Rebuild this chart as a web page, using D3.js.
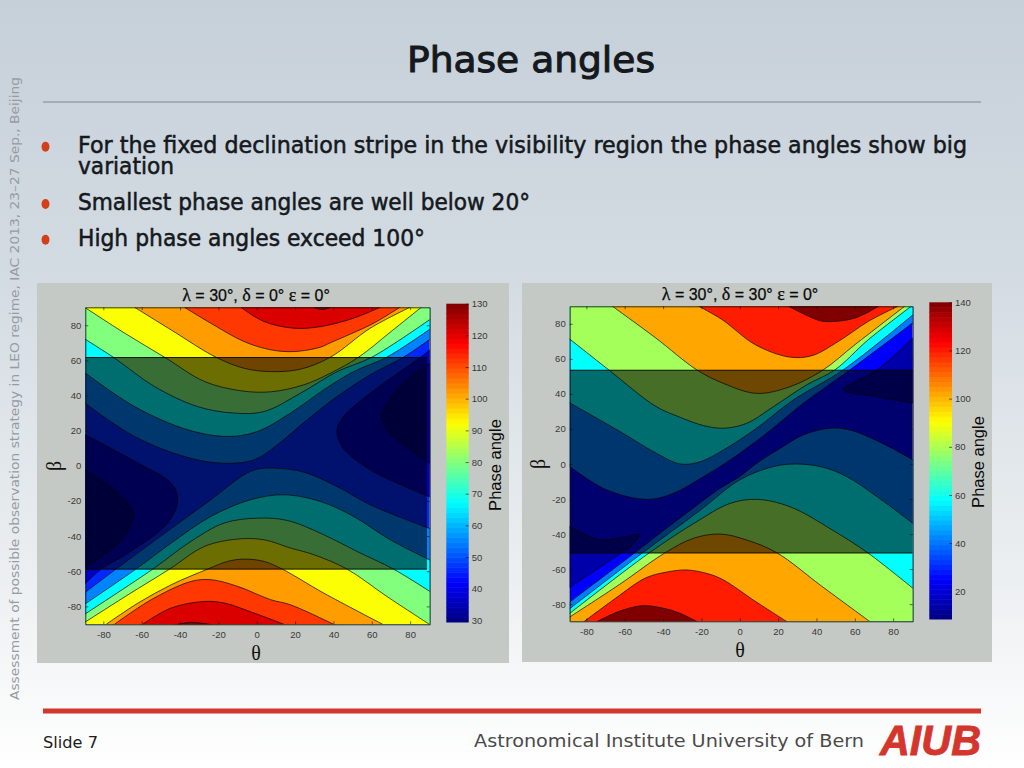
<!DOCTYPE html>
<html><head><meta charset="utf-8">
<script src="https://cdn.jsdelivr.net/npm/d3@7/dist/d3.min.js"></script>
<style>html,body{margin:0;padding:0;background:#fff}svg{display:block}</style>
</head><body><svg id="c" width="1024" height="768"></svg>
<script>
// ---------- slide text ----------
const slideTitle = "Phase angles";
const bullets = [["For the fixed declination stripe in the visibility region the phase angles show big","variation"],["Smallest phase angles are well below 20°"],["High phase angles exceed 100°"]];
const sideNote = "Assessment of possible observation strategy in LEO regime, IAC 2013, 23–27 Sep., Beijing";
const slideNumber = "Slide 7";
const institute = "Astronomical Institute University of Bern";
const logoText = "AIUB";
const axisTicks = [-80,-60,-40,-20,0,20,40,60,80];
const leftBarTicks = [30,40,50,60,70,80,90,100,110,120,130];
const rightBarTicks = [20,40,60,80,100,120,140];

// ---------- left chart: band values, lowest band first ----------
const leftBands = [30,36,46,55,67,80,92,102,112,121,130];
const leftStripe = [-58.8,61.6];
const leftUpper3 = [[-90,36],[-63.7,16.7],[-37.7,5.3],[-18.7,1.5],[-1.4,3.4],[10.7,11.9],[26.3,26.2],[41.9,39.4],[59.2,51.8],[76.5,61.8],[91,72.5]];
const leftUpper4 = [[-90,53.3],[-63.7,33.7],[-36,20.5],[-15.2,16.7],[.3,19.5],[17.6,30],[34.9,43.2],[50.5,53.6],[67.8,61.8],[91,78.3]];
const leftUpper5 = [[-90,72.4],[-74,61.2],[-53.3,45.1],[-30.8,33.7],[-11.8,30],[3.8,30.9],[22.8,41.3],[41.9,53.6],[60,61.8],[91,83.8]];
const leftUpper6 = [[-90,90.4],[-68.9,75.5],[-47.2,61.2],[-27.3,48],[-8.3,42.7],[7.3,42.1],[24.6,46.1],[38.4,52.7],[53.1,61.8],[69.6,76],[85.8,90.2]];
const leftUpper7 = [[-63.7,90.2],[-44.6,77.3],[-21.3,61.8],[-6.6,55.5],[7.3,53.6],[22.8,55],[38.4,61.8],[59.2,78.3],[79.9,90.2]];
const leftUpper8 = [[-37.7,90.2],[-23.9,81.1],[-6.6,70.7],[7.3,66],[19.4,65],[33.2,67.5],[38.4,70],[60.7,81],[74.6,90.2]];
const leftUpper9 = [[-8.3,90.2],[3.8,82.1],[19.4,78.3],[33.2,79.2],[50.5,84],[64.4,90.2]];
const leftUpper10 = [[29.8,90.2],[34.1,88.9],[38.4,90.2]];
const leftLower3 = [[-90,-72.5],[-73.4,-58.8],[-58.5,-46.8],[-41.2,-33],[-23.9,-19.3],[-6.6,-5.1],[.3,-1.9],[9,-1.3],[24.6,-3.6],[41.9,-11.8],[59.2,-22.2],[91,-36]];
const leftLower4 = [[-90,-79],[-63,-58.8],[-44.6,-44],[-23.9,-28.8],[-3.1,-19.3],[14.2,-16.5],[33.2,-20.3],[50.5,-28.8],[69.6,-42.1],[91,-54]];
const leftLower5 = [[-90,-84.7],[-54.2,-58.8],[-34.3,-43],[-17,-32.6],[.3,-29.8],[15.9,-31.1],[34.9,-39.2],[52.2,-48.7],[71.3,-58.8],[91,-72]];
const leftLower6 = [[-90,-89.3],[-67.1,-73.4],[-45.5,-58.8],[-27.3,-45.9],[-10,-41.7],[3.8,-42.1],[17.6,-46.8],[29.8,-50.6],[47.1,-58.8],[67.8,-74.3],[91,-90.9]];
const leftLower7 = [[-78.5,-90.2],[-61.9,-78.1],[-44.6,-67.7],[-25.6,-58.8],[-15.2,-54.4],[-6.6,-53.1],[3.8,-54.4],[13.3,-58.8],[34.9,-72.4],[65.7,-90.2]];
const leftLower8 = [[-74.2,-90.2],[-55,-76.2],[-34.3,-65.8],[-23.9,-64.8],[-10,-68.6],[7.3,-76.2],[17.6,-79.1],[40.1,-90.2]];
const leftLower9 = [[-59.5,-90.2],[-44.6,-80.9],[-27.3,-77.2],[-17,-78.1],[-1.4,-83.8],[14.2,-90.2]];
const leftLower10 = [[-41.2,-90.2],[-34.3,-89.1],[-24.7,-90.2]];
const leftPocketWest1 = [[-90,18],[-61.9,1.5],[-44.6,-9.9],[-41.2,-19.3],[-46.4,-32.6],[-67.1,-49.7],[-81.1,-58.8],[-90,-67.6]];
const leftPocketEast1 = [[91,66.6],[84.9,61.4],[59.2,41.3],[45.3,28.1],[41.9,20.5],[44.5,11],[59.2,-2.3],[91,-18]];
const leftPocketWest0 = [[-90,-1.8],[-72.3,-15.5],[-64.5,-26.9],[-70.6,-42.1],[-90,-58]];
const leftPocketEast0 = [[91,59],[76.5,47],[66.1,31.8],[65.2,26.2],[69.6,18.6],[91,.8]];

// ---------- right chart ----------
const rightBands = [14,25,41,58,79,102,120,140];
const rightStripe = [-50.8,53.5];
const rightUpper2 = [[-89.5,-.8],[-69.8,-14.6],[-48.4,-20.2],[-34.5,-16.7],[-18.9,-7.2],[-5,2.3],[14,17.5],[33.1,34.6],[57.4,53.7],[91,81.2]];
const rightUpper3 = [[-89.5,35.4],[-61.2,17.7],[-43.8,6.3],[-31,0],[-20.6,1.3],[-8.5,8],[8.8,20.4],[27.9,36.5],[53.9,53.7],[91,85.8]];
const rightUpper4 = [[-89.5,72],[-68.1,53.5],[-43.8,32.9],[-31,26.6],[-18.9,21.9],[-8.5,20.4],[3.6,23.2],[17.5,32.7],[34.8,45.1],[49.6,53.7],[67.1,71],[89.4,90]];
const rightUpper5 = [[-66.4,90],[-43.8,71.9],[-22.4,53.7],[-8.5,46],[8.8,40.3],[26.2,44.1],[43.5,53.7],[60.1,68.1],[86,90]];
const rightUpper6 = [[-21.3,90],[-9.2,82.4],[8.1,68.1],[25.5,61.1],[37.6,61.8],[51.5,70],[67.1,81.4],[82.5,90]];
const rightUpper7 = [[25.5,90],[35.9,84.3],[43.7,81.4],[60.1,83.3],[72.3,90]];
const rightLower2 = [[-89.5,-79.5],[-55.1,-51],[-30,-29.9],[-10.2,-13.9],[.2,-7],[9.7,1.1],[21,8.9],[33.1,16.6],[47,20.4],[57.4,19.4],[74,12],[91,1.9]];
const rightLower3 = [[-89.5,-83.3],[-51,-51],[-21.3,-27],[.3,-8.9],[17.5,-1.5],[29.6,0],[43.5,-1.9],[57.4,-8.2],[91,-34.5]];
const rightLower4 = [[-89.5,-86],[-47.5,-51],[-22.4,-32.9],[-5,-22.5],[8.8,-20.2],[26.2,-24.4],[48,-37.5],[67.1,-51],[91,-71.6]];
const rightLower5 = [[-89.5,-87.9],[-62.9,-68.9],[-38.8,-50.6],[-24.1,-42.4],[-10.2,-40],[3.6,-43.4],[19.2,-50.6],[42.8,-69.8],[67.9,-90]];
const rightLower6 = [[-81.3,-90],[-64.6,-76.5],[-49.2,-65.1],[-38.6,-61.8],[-27.6,-60.5],[-16.1,-62.8],[-8.5,-66.2],[8.1,-78.4],[24.6,-90]];
const rightLower7 = [[-74.4,-90],[-62.9,-84.1],[-50.8,-80.9],[-40.4,-82.2],[-31.7,-85],[-22.2,-90]];
const rightPocketWest0 = [[-89.5,-35.2],[-73.3,-43.2],[-61.2,-42],[-52.2,-40.3],[-56.8,-47],[-62,-51],[-89.5,-71]];
const rightPocketEast0 = [[91,72.7],[71.4,53.5],[54.1,42.4],[70.5,38.6],[91,34.6]];

// ---------- drawing ----------
const svg = d3.select("#c");
const SANS = "'Liberation Sans',Arial,sans-serif", SERIF = "'Liberation Serif',serif", VERA = "'DejaVu Sans',sans-serif";
const defs = svg.append("defs");
const bg = defs.append("linearGradient").attr("id","bg").attr("x1",0).attr("y1",0).attr("x2",0).attr("y2",1);
[[0,"#c6d0d9"],[.35,"#d3dbe2"],[.7,"#e8ecef"],[.88,"#f6f7f8"],[1,"#ffffff"]].forEach(d=>bg.append("stop").attr("offset",d[0]).attr("stop-color",d[1]));
svg.append("rect").attr("width",1024).attr("height",768).attr("fill","url(#bg)");

const clamp = v => Math.max(0,Math.min(1,v));
const jet = t => d3.rgb(255*clamp(1.5-Math.abs(4*t-3)),255*clamp(1.5-Math.abs(4*t-2)),255*clamp(1.5-Math.abs(4*t-1))).formatRgb();

function panel(o){
  const g = svg.append("g");
  g.append("rect").attr("x",o.box[0]).attr("y",o.box[1]).attr("width",o.box[2]).attr("height",o.box[3]).attr("fill","#c5c9c5");
  const x = d3.scaleLinear().domain(o.xd).range(o.xr), y = d3.scaleLinear().domain(o.yd).range(o.yr);
  const colorOf = v => jet((v-o.cd[0])/(o.cd[1]-o.cd[0]));
  defs.append("clipPath").attr("id",o.id).append("rect").attr("x",o.xr[0]).attr("y",o.yr[1]).attr("width",o.xr[1]-o.xr[0]).attr("height",o.yr[0]-o.yr[1]);
  const plot = g.append("g").attr("clip-path",`url(#${o.id})`);
  const line = d3.line().x(d=>x(d[0])).y(d=>y(d[1])).curve(d3.curveCatmullRom.alpha(.5));
  plot.append("rect").attr("x",o.xr[0]).attr("y",o.yr[1]).attr("width",o.xr[1]-o.xr[0]).attr("height",o.yr[0]-o.yr[1]).attr("fill",colorOf(o.bands[o.baseBand]));
  const area = (c,mode)=>{
    const e = mode==="up"?o.yr[1]:mode==="down"?o.yr[0]:null;
    const tail = e===null?"Z":`L${o.xr[1]+9},${e-(mode==="up"?9:-9)}L${o.xr[0]-9},${e-(mode==="up"?9:-9)}Z`;
    plot.append("path").attr("d",line(c.pts)+tail).attr("fill",colorOf(o.bands[c.band])).attr("stroke","none");
  };
  const all = [];
  o.upper.forEach((pts,i)=>{const c={pts,band:o.baseBand+1+i};area(c,"up");all.push(c)});
  o.lower.forEach((pts,i)=>{const c={pts,band:o.baseBand+1+i};area(c,"down");all.push(c)});
  o.pockets.forEach(c=>{area(c,"pocket");all.push(c)});
  plot.selectAll("path.c").data(all).join("path").attr("class","c").attr("d",d=>line(d.pts)).attr("fill","none").attr("stroke","#000").attr("stroke-width",.8).attr("stroke-opacity",.85);
  // stripe
  plot.append("rect").attr("x",x(o.stripeX[0])).attr("width",x(o.stripeX[1])-x(o.stripeX[0])).attr("y",y(o.stripe[1])).attr("height",y(o.stripe[0])-y(o.stripe[1])).attr("fill","#000").attr("fill-opacity",.57);
  o.stripe.forEach(b=>plot.append("line").attr("x1",x(o.stripeX[0])).attr("x2",x(o.stripeX[1])).attr("y1",y(b)).attr("y2",y(b)).attr("stroke","#000").attr("stroke-width",.9));
  // axes
  const style = s=>{s.selectAll(".domain").attr("stroke","#0b0b0b").attr("stroke-width",.8);s.selectAll(".tick line").attr("stroke","#111").attr("stroke-width",.6);s.selectAll("text").attr("fill","#383838").attr("font-family",SANS).attr("font-size",9.5)};
  const plain = d=>String(d);
  g.append("g").attr("transform",`translate(0,${o.yr[0]})`).call(d3.axisBottom(x).tickValues(axisTicks).tickSize(-3).tickSizeOuter(0).tickPadding(6.5).tickFormat(plain)).call(style);
  g.append("g").attr("transform",`translate(${o.xr[0]},0)`).call(d3.axisLeft(y).tickValues(axisTicks).tickSize(-3).tickSizeOuter(0).tickPadding(4).tickFormat(plain)).call(style);
  g.append("g").attr("transform",`translate(0,${o.yr[1]})`).call(d3.axisTop(x).tickValues(axisTicks).tickSize(-3).tickSizeOuter(0).tickFormat("")).call(style);
  g.append("g").attr("transform",`translate(${o.xr[1]},0)`).call(d3.axisRight(y).tickValues(axisTicks).tickSize(-3).tickSizeOuter(0).tickFormat("")).call(style);
  // title and labels
  const t = g.append("text").attr("x",o.titleX).attr("y",o.yr[1]-6).attr("text-anchor","middle").attr("font-family",SANS).attr("font-size",16).attr("fill","#0a0a0a").attr("stroke","#0a0a0a").attr("stroke-width",.25);
  o.title.forEach(p=>t.append("tspan").attr("font-family",p[1]?SERIF:SANS).attr("font-size",p[1]?18:16).text(p[0]));
  g.append("text").attr("x",o.titleX).attr("y",o.yr[0]+36).attr("text-anchor","middle").attr("font-family",SERIF).attr("font-size",20).attr("fill","#111").text("θ");
  g.append("text").attr("transform",`translate(${o.betaX},${(o.yr[0]+o.yr[1])/2}) rotate(-90)`).attr("text-anchor","middle").attr("font-family",SERIF).attr("font-size",20).attr("fill","#111").text("β");
  // colour bar
  const c = d3.scaleLinear().domain(o.cd).range(o.cr);
  const dv=(o.cd[1]-o.cd[0])/64, cells = d3.range(64).map(i=>o.cd[0]+dv*i);
  g.append("g").selectAll("rect").data(cells).join("rect").attr("x",o.cx[0]).attr("width",o.cx[1]-o.cx[0]).attr("y",d=>c(d+dv)).attr("height",d=>c(d)-c(d+dv)+.5).attr("fill",d=>colorOf(d+dv/2));
  g.append("g").attr("transform",`translate(${o.cx[1]},0)`).call(d3.axisRight(c).tickValues(o.barTicks).tickSize(-3).tickSizeOuter(0).tickPadding(3).tickFormat(plain)).call(style).call(s=>s.select(".domain").attr("stroke","none"));
  g.append("text").attr("transform",`translate(${o.labelX},${o.labelY}) rotate(-90)`).attr("text-anchor","middle").attr("font-family",SANS).attr("font-size",16.5).attr("fill","#0a0a0a").text("Phase angle");
}

panel({id:"pl",box:[37,283,472,380],xd:[-89.4,90.2],xr:[85.3,429.7],yd:[-90.2,90.2],yr:[624.3,307.3],cd:[29.5,130],cr:[622,303.7],cx:[446.3,468.7],
  bands:leftBands,baseBand:2,stripe:leftStripe,stripeX:[-89.4,88.8],barTicks:leftBarTicks,labelX:501,labelY:465,betaX:61,titleX:256,
  title:[["λ",1],[" = 30",0],["°",0],[", ",0],["δ",1],[" = 0° ",0],["ε",1],[" = 0°",0]],
  upper:[leftUpper3,leftUpper4,leftUpper5,leftUpper6,leftUpper7,leftUpper8,leftUpper9,leftUpper10],
  lower:[leftLower3,leftLower4,leftLower5,leftLower6,leftLower7,leftLower8,leftLower9,leftLower10],
  pockets:[{pts:leftPocketWest1,band:1},{pts:leftPocketEast1,band:1},{pts:leftPocketWest0,band:0},{pts:leftPocketEast0,band:0}]});
panel({id:"pr",box:[522,283,470,379],xd:[-88.7,90.2],xr:[569.7,912.7],yd:[-89.8,90],yr:[621.3,306.3],cd:[8.5,140],cr:[619,302.3],cx:[929.3,952],
  bands:rightBands,baseBand:1,stripe:rightStripe,stripeX:[-88.7,90.2],barTicks:rightBarTicks,labelX:984,labelY:462,betaX:545,titleX:740,
  title:[["λ",1],[" = 30",0],["°",0],[", ",0],["δ",1],[" = 30° ",0],["ε",1],[" = 0°",0]],
  upper:[rightUpper2,rightUpper3,rightUpper4,rightUpper5,rightUpper6,rightUpper7],
  lower:[rightLower2,rightLower3,rightLower4,rightLower5,rightLower6,rightLower7],
  pockets:[{pts:rightPocketWest0,band:0},{pts:rightPocketEast0,band:0}]});

// slide furniture
svg.append("text").attr("x",531).attr("y",72).attr("text-anchor","middle").attr("font-family",VERA).attr("font-size",36).attr("fill","#15191d").attr("stroke","#15191d").attr("stroke-width",1).attr("textLength",248).attr("lengthAdjust","spacingAndGlyphs").text(slideTitle);
svg.append("line").attr("x1",43).attr("x2",981).attr("y1",102).attr("y2",102).attr("stroke","#7c868d").attr("stroke-width",1.2);
const bulletY=[[152.7,174],[210],[245.7]], bulletLen=[[889,96],[452],[347]];
bullets.forEach((lines,i)=>{
  svg.append("ellipse").attr("cx",45.5).attr("cy",bulletY[i][0]-6).attr("rx",4).attr("ry",5).attr("fill","#d2401a");
  lines.forEach((s,j)=>svg.append("text").attr("x",78).attr("y",bulletY[i][j]).attr("font-family",VERA).attr("font-size",23).attr("fill","#15191d").attr("stroke","#15191d").attr("stroke-width",.55).attr("textLength",bulletLen[i][j]).attr("lengthAdjust","spacingAndGlyphs").text(s));
});
svg.append("text").attr("transform","translate(19,700) rotate(-90)").attr("font-family",VERA).attr("font-size",12.5).attr("fill","#959ca2").attr("textLength",623).attr("lengthAdjust","spacingAndGlyphs").text(sideNote);
svg.append("rect").attr("x",43).attr("y",708.5).attr("width",938).attr("height",5).attr("fill","#d4352d");
svg.append("text").attr("x",43).attr("y",748).attr("font-family",VERA).attr("font-size",16.5).attr("fill","#1c1c1c").attr("textLength",55).attr("lengthAdjust","spacingAndGlyphs").text(slideNumber);
svg.append("text").attr("x",474).attr("y",747).attr("font-family",VERA).attr("font-size",18.5).attr("fill","#4a4a4a").attr("textLength",390).attr("lengthAdjust","spacingAndGlyphs").text(institute);
svg.append("text").attr("x",880).attr("y",755).attr("font-family",SANS).attr("font-weight","bold").attr("font-style","italic").attr("font-size",43).attr("fill","#d4352d").attr("stroke","#d4352d").attr("stroke-width",.9).attr("textLength",101).attr("lengthAdjust","spacingAndGlyphs").text(logoText);
</script></body></html>
